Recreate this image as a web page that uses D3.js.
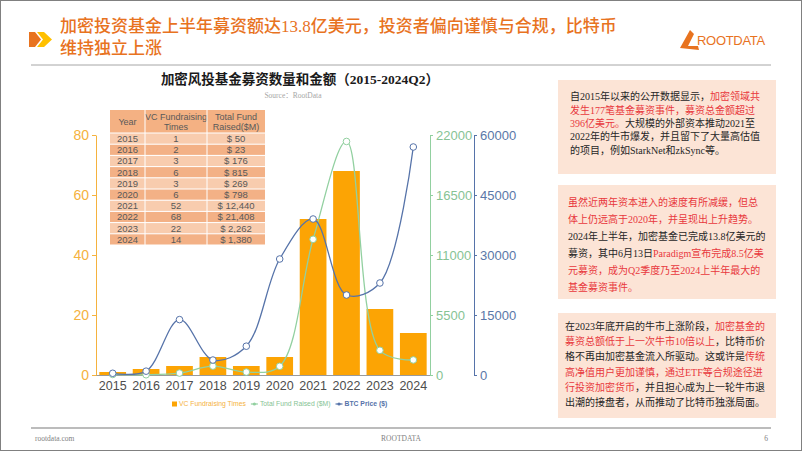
<!DOCTYPE html>
<html><head><meta charset="utf-8">
<script src="https://cdn.jsdelivr.net/npm/d3@7"></script>
<style>body{margin:0;background:#fff;} svg{display:block}</style>
</head><body>
<script>
// ---------- data ----------
const years = ["2015","2016","2017","2018","2019","2020","2021","2022","2023","2024"];
const vcTimes = [1,2,3,6,3,6,52,68,22,14];
const fundRaised = [50,23,176,815,269,798,12440,21408,2262,1380];
const btcPrice = [430,960,13850,3740,7200,29000,39000,20000,23000,57000];
const leftTicks = [0,20,40,60,80];
const fundTicks = [0,5500,11000,16500,22000];
const btcTicks = [0,15000,30000,45000,60000];
const seriesNames = ["VC Fundraising Times","Total Fund Raised ($M)","BTC Price ($)"];
const tableHeader = [["Year"],["VC Fundraising","Times"],["Total Fund","Raised($M)"]];

const titleLines = ["加密投资基金上半年募资额达13.8亿美元，投资者偏向谨慎与合规，比特币","维持独立上涨"];
const chartTitle = "加密风投基金募资数量和金额（2015-2024Q2）";
const sourceText = "Source：RootData";

const box1 = [
  [["自2015年以来的公开数据显示，","k"],["加密领域共","r"]],
  [["发生177笔基金募资事件，募资总金额超过","r"]],
  [["396亿美元。","r"],["大规模的外部资本推动2021至","k"]],
  [["2022年的牛市爆发，并且留下了大量高估值","k"]],
  [["的项目，例如StarkNet和zkSync等。","k"]]
];
const box2 = [
  [["虽然近两年资本进入的速度有所减缓，但总","r"]],
  [["体上仍远高于2020年，并呈现出上升趋势。","r"]],
  [["2024年上半年，加密基金已完成13.8亿美元的","k"]],
  [["募资，其中6月13日","k"],["Paradigm宣布完成8.5亿美","r"]],
  [["元募资，成为Q2季度乃至2024上半年最大的","r"]],
  [["基金募资事件。","r"]]
];
const box3 = [
  [["在2023年底开启的牛市上涨阶段，","k"],["加密基金的","r"]],
  [["募资总额低于上一次牛市10倍以上","r"],["，比特币价","k"]],
  [["格不再由加密基金流入所驱动。这或许是","k"],["传统","r"]],
  [["高净值用户更加谨慎，通过ETF等合规途径进","r"]],
  [["行投资加密货币","r"],["，并且担心成为上一轮牛市退","k"]],
  [["出潮的接盘者，从而推动了比特币独涨局面。","k"]]
];

// ---------- styles ----------
const W = 802, H = 451;
const C = {
  bar: "#FCA404", left: "#F5B23E", green: "#92D0A0", greenTxt: "#86C394",
  blue: "#5673A9", blueTxt: "#5A77A8", title: "#E8731F",
  red: "#E8383D", black: "#262626", box: "#FCE4D6"
};
const serifCJK = "'Liberation Serif','Noto Sans CJK SC',serif";
const sans = "'Liberation Sans',Arial,sans-serif";

const svg = d3.select("body").append("svg").attr("width", W).attr("height", H);
svg.append("rect").attr("x",0.5).attr("y",0.5).attr("width",W-1).attr("height",H-1)
  .attr("fill","#fff").attr("stroke","#808080");

// header chevrons
svg.append("path").attr("d","M29,32 L35,32 L41,39.5 L35,47 L29,47 Z").attr("fill","#E8731F");
svg.append("path").attr("d","M37,32 L44,32 L52,39.5 L44,47 L37,47 L43,39.5 Z").attr("fill","#FFC000");

// title
titleLines.forEach((t,i)=>{
  svg.append("text").attr("x",60).attr("y",32+i*22).text(t)
    .attr("font-family",serifCJK).attr("font-size",17).attr("font-weight",500)
    .attr("fill",C.title);
});

// logo
svg.append("path").attr("d","M680,48 L690,30 L694,34 L688,46 L698,46 L699,50 Z").attr("fill","#E8731F");
svg.append("text").attr("x",697).attr("y",45).text("ROOTDATA")
  .attr("font-family",sans).attr("font-size",13).attr("fill","#E8731F").attr("letter-spacing",-0.3);

// top separator
svg.append("line").attr("x1",31).attr("x2",771).attr("y1",65).attr("y2",65)
  .attr("stroke","#A6A6A6").attr("stroke-width",1);

// chart title + source
svg.append("text").attr("x",300).attr("y",84).attr("text-anchor","middle").text(chartTitle)
  .attr("font-family",serifCJK).attr("font-size",13.5).attr("font-weight","bold").attr("fill","#1a1a1a");
svg.append("text").attr("x",293).attr("y",98).attr("text-anchor","middle").text(sourceText)
  .attr("font-family",serifCJK).attr("font-size",7.5).attr("fill","#A6A6A6");

// ---------- chart ----------
const x = d3.scaleBand().domain(years).range([96,430]).paddingInner(0.2).paddingOuter(0.1);
const yL = d3.scaleLinear().domain([0,80]).range([375,135]);
const yG = d3.scaleLinear().domain([0,22000]).range([375,135]);
const yB = d3.scaleLinear().domain([0,60000]).range([375,135]);
const cx = d => x(d) + x.bandwidth()/2;

// baseline
svg.append("line").attr("x1",96).attr("x2",430).attr("y1",375.5).attr("y2",375.5)
  .attr("stroke","#9a9a9a").attr("stroke-width",1);

// bars
svg.append("g").selectAll("rect").data(years).join("rect")
  .attr("x",d=>x(d)).attr("width",x.bandwidth())
  .attr("y",(d,i)=>yL(vcTimes[i])).attr("height",(d,i)=>375-yL(vcTimes[i]))
  .attr("fill",C.bar);

// axes
function styleAxis(g, col, txtCol, fs){
  g.selectAll("path").attr("stroke",col);
  g.selectAll("line").attr("stroke",col);
  g.selectAll("text").attr("fill",txtCol).attr("font-family",sans).attr("font-size",fs);
}
const gL = svg.append("g").attr("transform","translate(96,0)")
  .call(d3.axisLeft(yL).tickValues(leftTicks).tickSize(4).tickSizeOuter(0).tickPadding(3));
styleAxis(gL, C.left, C.left, 14);
const gG = svg.append("g").attr("transform","translate(430,0)")
  .call(d3.axisRight(yG).tickValues(fundTicks).tickFormat(d3.format("d")).tickSize(3).tickSizeOuter(0).tickPadding(3));
styleAxis(gG, C.green, C.greenTxt, 13);
const gB = svg.append("g").attr("transform","translate(474,0)")
  .call(d3.axisRight(yB).tickValues(btcTicks).tickFormat(d3.format("d")).tickSize(3).tickSizeOuter(0).tickPadding(3));
styleAxis(gB, C.blue, C.blueTxt, 13);
const gX = svg.append("g").attr("transform","translate(0,375)")
  .call(d3.axisBottom(x).tickSize(0).tickPadding(6));
gX.select(".domain").remove();
gX.selectAll("text").attr("fill","#4d4d4d").attr("font-family",sans).attr("font-size",12.5);

// lines
const curve = d3.curveCatmullRom.alpha(0.5);
const lineG = d3.line().x((d,i)=>cx(years[i])).y(d=>yG(d)).curve(curve);
const lineB = d3.line().x((d,i)=>cx(years[i])).y(d=>yB(d)).curve(curve);
svg.append("path").attr("d",lineG(fundRaised)).attr("fill","none").attr("stroke",C.green).attr("stroke-width",1.3);
svg.append("path").attr("d",lineB(btcPrice)).attr("fill","none").attr("stroke",C.blue).attr("stroke-width",1.3);
svg.append("g").selectAll("circle").data(fundRaised).join("circle")
  .attr("cx",(d,i)=>cx(years[i])).attr("cy",d=>yG(d)).attr("r",3.3)
  .attr("fill","#fff").attr("stroke",C.green).attr("stroke-width",1);
svg.append("g").selectAll("circle").data(btcPrice).join("circle")
  .attr("cx",(d,i)=>cx(years[i])).attr("cy",d=>yB(d)).attr("r",3.3)
  .attr("fill","#fff").attr("stroke",C.blue).attr("stroke-width",1);

// legend (sequential layout)
const lg = svg.append("g").attr("font-family",sans).attr("font-size",6.8);
const legCols = [C.left, C.greenTxt, C.blue];
const symCols = [C.bar, C.green, C.blue];
let lx = 172; const ly = 404;
seriesNames.forEach((name,i)=>{
  if (i===0){
    lg.append("rect").attr("x",lx).attr("y",ly-2.5).attr("width",5).attr("height",5).attr("fill",symCols[i]);
    lx += 7;
  } else {
    lg.append("line").attr("x1",lx).attr("x2",lx+7).attr("y1",ly).attr("y2",ly).attr("stroke",symCols[i]).attr("stroke-width",1.2);
    lg.append("circle").attr("cx",lx+3.5).attr("cy",ly).attr("r",1.6).attr("fill",symCols[i]);
    lx += 9;
  }
  const t = lg.append("text").attr("x",lx).attr("y",ly+2.4).text(name).attr("fill",legCols[i])
    .attr("font-weight", i===2 ? "bold" : "normal");
  lx += t.node().getComputedTextLength() + 5;
});

// ---------- table ----------
const colX = [110,145,207,265];
const headTop = 110, headH = 23, rowH = 11.2;
const tbl = svg.append("g").attr("font-family",sans).attr("fill","#595959");
tbl.append("rect").attr("x",colX[0]).attr("y",headTop).attr("width",colX[3]-colX[0]).attr("height",headH).attr("fill","#F4B183");
tableHeader.forEach((lines,j)=>{
  const mx = (colX[j]+colX[j+1])/2;
  lines.forEach((t,k)=>{
    const yy = headTop + headH/2 + (k - (lines.length-1)/2)*10.5 + 3.3;
    tbl.append("text").attr("x",mx).attr("y",yy).attr("text-anchor","middle").attr("font-size",9).text(t);
  });
});
const rows = years.map((y,i)=>[y, String(vcTimes[i]), "$ " + d3.format(",")(fundRaised[i])]);
rows.forEach((r,i)=>{
  const ry = headTop + headH + i*rowH;
  tbl.append("rect").attr("x",colX[0]).attr("y",ry).attr("width",colX[3]-colX[0]).attr("height",rowH)
    .attr("fill", i%2===0 ? "#F8CCAE" : "#F3B186");
  r.forEach((t,j)=>{
    tbl.append("text").attr("x",(colX[j]+colX[j+1])/2).attr("y",ry+rowH/2+3.4)
      .attr("text-anchor","middle").attr("font-size",9.5).text(t);
  });
});
for (let i=0;i<=rows.length;i++){
  const yy = headTop + headH + i*rowH;
  tbl.append("line").attr("x1",colX[0]).attr("x2",colX[3]).attr("y1",yy).attr("y2",yy).attr("stroke","#fff").attr("stroke-width",1);
}
colX.slice(1,3).forEach(cxv=>{
  tbl.append("line").attr("x1",cxv).attr("x2",cxv).attr("y1",headTop).attr("y2",headTop+headH+rows.length*rowH)
    .attr("stroke","#fff").attr("stroke-width",1);
});

// ---------- text boxes ----------
function drawBox(lines, bx, by, bw, bh, tx, firstY, lh){
  svg.append("rect").attr("x",bx).attr("y",by).attr("width",bw).attr("height",bh).attr("fill",C.box);
  lines.forEach((segs,i)=>{
    const t = svg.append("text").attr("x",tx).attr("y",firstY + i*lh + 3.6)
      .attr("font-family",serifCJK).attr("font-size",10);
    segs.forEach(s=>t.append("tspan").text(s[0]).attr("fill", s[1]==="r"?C.red:C.black));
  });
}
drawBox(box1, 558, 80, 218, 94, 570, 96.7, 13.3);
drawBox(box2, 558, 185, 218, 114, 568, 202.5, 17);
drawBox(box3, 558, 313, 218, 105, 565, 326, 15.3);

// ---------- footer ----------
svg.append("line").attr("x1",31).attr("x2",771).attr("y1",428).attr("y2",428)
  .attr("stroke","#A6A6A6").attr("stroke-width",1.5);
const ft = svg.append("g").attr("font-family","'Liberation Serif',serif").attr("font-size",7.5).attr("fill","#7f7f7f");
ft.append("text").attr("x",35).attr("y",441).text("rootdata.com");
ft.append("text").attr("x",401).attr("y",441).attr("text-anchor","middle").text("ROOTDATA");
ft.append("text").attr("x",768).attr("y",441).attr("text-anchor","end").text("6");
</script>
</body></html>
